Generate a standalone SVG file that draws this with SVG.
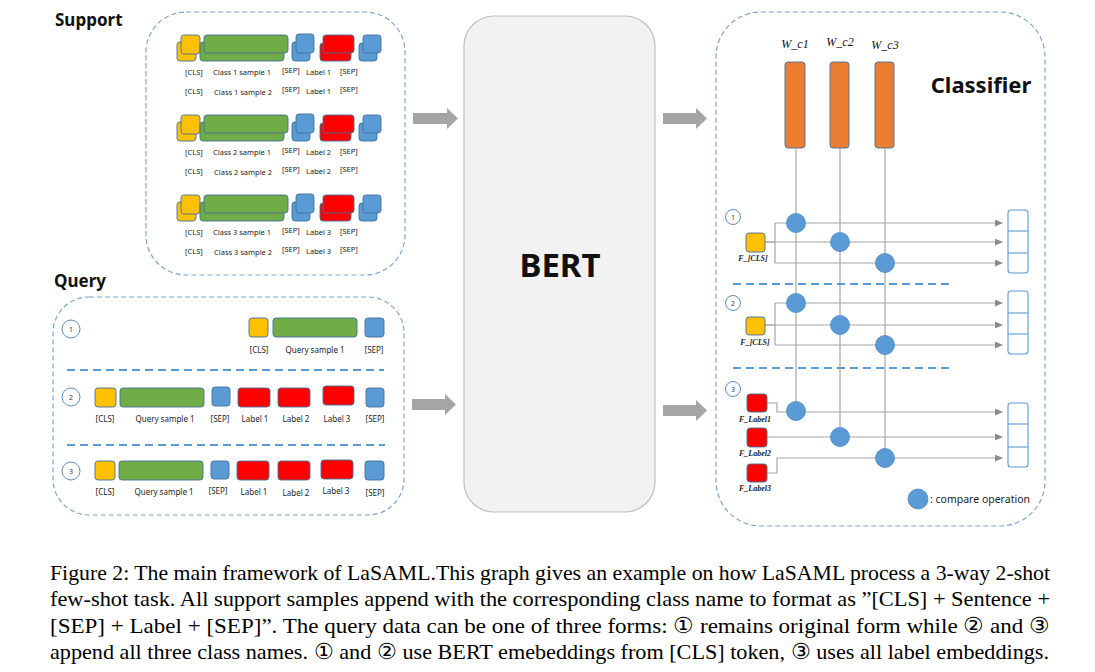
<svg xmlns="http://www.w3.org/2000/svg" width="1095" height="672" viewBox="0 0 1095 672">
<style>
.frame{fill:none;stroke:#7FA6CF;stroke-width:1.2;stroke-dasharray:5 3}
.sep{fill:none;stroke:#5B9BD5;stroke-width:2;stroke-dasharray:8 5}
.y{fill:#FFC000;stroke:#41719C;stroke-width:0.9}
.g{fill:#70AD47;stroke:#41719C;stroke-width:0.9}
.b{fill:#5B9BD5;stroke:#41719C;stroke-width:0.9}
.r{fill:#FF0000;stroke:#41719C;stroke-width:0.9}
.o{fill:#ED7D31;stroke:#41719C;stroke-width:0.9}
.t{font-family:"Noto Sans","Open Sans",sans-serif;font-size:7.5px;fill:#222}
.tq{font-family:"Noto Sans","Open Sans",sans-serif;font-size:8px;fill:#222;text-anchor:middle}
.h{font-family:"Noto Sans","Open Sans",sans-serif;font-weight:bold;fill:#111}
.num{fill:#fff;stroke:#5B8EC2;stroke-width:1}
.numt{font-family:"Noto Sans",sans-serif;font-size:7px;fill:#333;text-anchor:middle}
.wl{font-family:"Liberation Serif",serif;font-style:italic;font-size:12px;fill:#111;text-anchor:middle}
.fl{font-family:"Liberation Serif",serif;font-style:italic;font-weight:bold;font-size:8px;fill:#222;text-anchor:middle}
.ln{fill:none;stroke:#A6A6A6;stroke-width:1.2}
.cmp{fill:#5B9BD5;stroke:#4A86C0;stroke-width:0.8}
.out{fill:#fff;stroke:#5B9BD5;stroke-width:1.1}
.cap{font-family:"Liberation Serif","DejaVu Serif",serif;font-size:22px;fill:#000}
.arr{fill:#A5A5A5}
</style>
<defs>
<marker id="ah" markerWidth="8" markerHeight="7" refX="7" refY="3.5" orient="auto" markerUnits="userSpaceOnUse">
<path d="M0,0 L8,3.5 L0,7 z" fill="#8C8C8C"/>
</marker>
</defs>

<!-- Support -->
<g id="support">
<text class="h" x="55" y="26" font-size="17">Support</text>
<rect class="frame" x="146" y="12" width="259" height="263" rx="40"/>
<g id="support-class1">
<rect class="y" x="177" y="42" width="19" height="19" rx="3"/><rect class="y" x="181" y="35" width="19" height="19" rx="3"/>
<rect class="g" x="200" y="42" width="84" height="19" rx="3"/><rect class="g" x="204" y="35" width="84" height="18" rx="3"/>
<rect class="b" x="292" y="42" width="18" height="19" rx="3"/><rect class="b" x="296" y="34" width="18" height="19" rx="3"/>
<rect class="r" x="320" y="43" width="31" height="18" rx="3"/><rect class="r" x="323" y="35" width="31" height="18" rx="3"/>
<rect class="b" x="359" y="43" width="18" height="18" rx="3"/><rect class="b" x="363" y="35" width="18" height="18" rx="3"/>
<text class="t" x="185" y="75">[CLS]</text><text class="t" x="213" y="75">Class 1 sample 1</text><text class="t" x="282" y="73">[SEP]</text><text class="t" x="306" y="75">Label 1</text><text class="t" x="340" y="74">[SEP]</text>
<text class="t" x="185" y="94">[CLS]</text><text class="t" x="214" y="95">Class 1 sample 2</text><text class="t" x="282" y="92">[SEP]</text><text class="t" x="306" y="94">Label 1</text><text class="t" x="340" y="92">[SEP]</text>
</g>
<g id="support-class2" transform="translate(0,80)">
<rect class="y" x="177" y="42" width="19" height="19" rx="3"/><rect class="y" x="181" y="35" width="19" height="19" rx="3"/>
<rect class="g" x="200" y="42" width="84" height="19" rx="3"/><rect class="g" x="204" y="35" width="84" height="18" rx="3"/>
<rect class="b" x="292" y="42" width="18" height="19" rx="3"/><rect class="b" x="296" y="34" width="18" height="19" rx="3"/>
<rect class="r" x="320" y="43" width="31" height="18" rx="3"/><rect class="r" x="323" y="35" width="31" height="18" rx="3"/>
<rect class="b" x="359" y="43" width="18" height="18" rx="3"/><rect class="b" x="363" y="35" width="18" height="18" rx="3"/>
<text class="t" x="185" y="75">[CLS]</text><text class="t" x="213" y="75">Class 2 sample 1</text><text class="t" x="282" y="73">[SEP]</text><text class="t" x="306" y="75">Label 2</text><text class="t" x="340" y="74">[SEP]</text>
<text class="t" x="185" y="94">[CLS]</text><text class="t" x="214" y="95">Class 2 sample 2</text><text class="t" x="282" y="92">[SEP]</text><text class="t" x="306" y="94">Label 2</text><text class="t" x="340" y="92">[SEP]</text>
</g>
<g id="support-class3" transform="translate(0,160)">
<rect class="y" x="177" y="42" width="19" height="19" rx="3"/><rect class="y" x="181" y="35" width="19" height="19" rx="3"/>
<rect class="g" x="200" y="42" width="84" height="19" rx="3"/><rect class="g" x="204" y="35" width="84" height="18" rx="3"/>
<rect class="b" x="292" y="42" width="18" height="19" rx="3"/><rect class="b" x="296" y="34" width="18" height="19" rx="3"/>
<rect class="r" x="320" y="43" width="31" height="18" rx="3"/><rect class="r" x="323" y="35" width="31" height="18" rx="3"/>
<rect class="b" x="359" y="43" width="18" height="18" rx="3"/><rect class="b" x="363" y="35" width="18" height="18" rx="3"/>
<text class="t" x="185" y="75">[CLS]</text><text class="t" x="213" y="75">Class 3 sample 1</text><text class="t" x="282" y="73">[SEP]</text><text class="t" x="306" y="75">Label 3</text><text class="t" x="340" y="74">[SEP]</text>
<text class="t" x="185" y="94">[CLS]</text><text class="t" x="214" y="95">Class 3 sample 2</text><text class="t" x="282" y="92">[SEP]</text><text class="t" x="306" y="94">Label 3</text><text class="t" x="340" y="92">[SEP]</text>
</g>
</g>

<!-- Query -->
<g id="query">
<text class="h" x="54" y="287" font-size="17">Query</text>
<rect class="frame" x="53" y="297" width="351" height="218" rx="36"/>
<g id="query-form1">
<circle class="num" cx="71" cy="329" r="9"/><text class="numt" x="71" y="331.5">1</text>
<rect class="y" x="249" y="318" width="19" height="19" rx="3"/>
<rect class="g" x="273" y="318" width="84" height="19" rx="3"/>
<rect class="b" x="365" y="318" width="19" height="19" rx="3"/>
<text class="tq" x="259" y="353">[CLS]</text><text class="tq" x="315" y="353">Query sample 1</text><text class="tq" x="374" y="353">[SEP]</text>
</g>
<line class="sep" x1="67" y1="370" x2="384" y2="370"/>
<g id="query-form2">
<circle class="num" cx="71" cy="397" r="9"/><text class="numt" x="71" y="399.5">2</text>
<rect class="y" x="95" y="388" width="21" height="19" rx="3"/>
<rect class="g" x="120" y="388" width="84" height="19" rx="3"/>
<rect class="b" x="212" y="387" width="18" height="19" rx="3"/>
<rect class="r" x="238" y="388" width="32" height="19" rx="3"/>
<rect class="r" x="278" y="388" width="32" height="19" rx="3"/>
<rect class="r" x="323" y="386" width="31" height="19" rx="3"/>
<rect class="b" x="366" y="388" width="18" height="19" rx="3"/>
<text class="tq" x="105" y="422">[CLS]</text><text class="tq" x="165" y="422">Query sample 1</text><text class="tq" x="220" y="422">[SEP]</text><text class="tq" x="255" y="422">Label 1</text><text class="tq" x="296" y="422">Label 2</text><text class="tq" x="337" y="422">Label 3</text><text class="tq" x="375" y="422">[SEP]</text>
</g>
<line class="sep" x1="67" y1="445" x2="385" y2="445"/>
<g id="query-form3">
<circle class="num" cx="71" cy="471" r="9"/><text class="numt" x="71" y="473.5">3</text>
<rect class="y" x="95" y="461" width="20" height="19" rx="3"/>
<rect class="g" x="119" y="461" width="84" height="19" rx="3"/>
<rect class="b" x="211" y="461" width="18" height="18" rx="3"/>
<rect class="r" x="237" y="461" width="32" height="19" rx="3"/>
<rect class="r" x="278" y="461" width="32" height="19" rx="3"/>
<rect class="r" x="321" y="460" width="32" height="19" rx="3"/>
<rect class="b" x="365" y="461" width="19" height="19" rx="3"/>
<text class="tq" x="105" y="495">[CLS]</text><text class="tq" x="164" y="495">Query sample 1</text><text class="tq" x="218" y="494">[SEP]</text><text class="tq" x="254" y="495">Label 1</text><text class="tq" x="296" y="496">Label 2</text><text class="tq" x="336" y="494">Label 3</text><text class="tq" x="375" y="496">[SEP]</text>
</g>
</g>

<!-- BERT -->
<g id="bert">
<rect x="464" y="16" width="191" height="496" rx="30" fill="#F2F2F2" stroke="#BFBFBF" stroke-width="1.2"/>
<text class="h" x="560" y="277" font-size="33" text-anchor="middle">BERT</text>
</g>

<!-- Block arrows -->
<g id="flow-arrows">
<path class="arr" d="M413,113 H447 V108 L458,118.5 L447,129 V124 H413 z"/>
<path class="arr" d="M663,113 H696 V108 L707,118.5 L696,129 V124 H663 z"/>
<path class="arr" d="M412,399 H445 V394 L456,404.5 L445,415 V410 H412 z"/>
<path class="arr" d="M663,405 H696 V400 L707,410.5 L696,421 V416 H663 z"/>
</g>

<!-- Classifier -->
<g id="classifier">
<rect class="frame" x="716" y="12" width="329" height="514" rx="45"/>
<text class="h" x="981" y="93" font-size="22" text-anchor="middle">Classifier</text>
<g id="weights">
<text class="wl" x="795" y="48">W_c1</text><text class="wl" x="840" y="46">W_c2</text><text class="wl" x="885" y="49">W_c3</text>
<rect class="o" x="785" y="62" width="20" height="86" rx="3"/>
<rect class="o" x="830" y="62" width="19" height="86" rx="3"/>
<rect class="o" x="875" y="62" width="19" height="86" rx="3"/>
</g>
</g>

<g id="connectors">
<line class="ln" x1="796" y1="148" x2="796" y2="412"/>
<line class="ln" x1="840" y1="148" x2="840" y2="437"/>
<line class="ln" x1="885" y1="148" x2="885" y2="458"/>
<!-- form 1 -->
<path class="ln" d="M765,242 H775 M775,223 V263"/>
<line class="ln" x1="775" y1="223" x2="1002" y2="223" marker-end="url(#ah)"/>
<line class="ln" x1="765" y1="242" x2="1002" y2="242" marker-end="url(#ah)"/>
<line class="ln" x1="775" y1="263" x2="1002" y2="263" marker-end="url(#ah)"/>
<!-- form 2 -->
<path class="ln" d="M765,325 H775 M775,303 V345"/>
<line class="ln" x1="775" y1="303" x2="1002" y2="303" marker-end="url(#ah)"/>
<line class="ln" x1="765" y1="325" x2="1002" y2="325" marker-end="url(#ah)"/>
<line class="ln" x1="775" y1="345" x2="1002" y2="345" marker-end="url(#ah)"/>
<!-- form 3 -->
<path class="ln" d="M767,403 H777 V412 H1002" marker-end="url(#ah)"/>
<line class="ln" x1="767" y1="437" x2="1002" y2="437" marker-end="url(#ah)"/>
<path class="ln" d="M767,473 H777 V458 H1002" marker-end="url(#ah)"/>
</g>

<g id="classifier-form1">
<circle class="num" cx="733" cy="217" r="7.5"/><text class="numt" x="733" y="219.5">1</text>
<rect class="y" x="746" y="233" width="19" height="19" rx="3"/>
<text class="fl" x="753" y="261">F_[CLS]</text>
<circle class="cmp" cx="796" cy="223" r="9.5"/>
<circle class="cmp" cx="840" cy="242" r="9.5"/>
<circle class="cmp" cx="885" cy="263" r="9.5"/>
<rect class="out" x="1008" y="210" width="20" height="63" rx="3"/>
<line class="out" x1="1008" y1="231" x2="1028" y2="231"/><line class="out" x1="1008" y1="253" x2="1028" y2="253"/>
</g>
<line class="sep" x1="733" y1="284" x2="952" y2="284"/>
<g id="classifier-form2">
<circle class="num" cx="733" cy="303" r="7.5"/><text class="numt" x="733" y="305.5">2</text>
<rect class="y" x="746" y="317" width="19" height="18" rx="3"/>
<text class="fl" x="755" y="345">F_[CLS]</text>
<circle class="cmp" cx="796" cy="303" r="9.5"/>
<circle class="cmp" cx="840" cy="325" r="9.5"/>
<circle class="cmp" cx="885" cy="345" r="9.5"/>
<rect class="out" x="1008" y="291" width="20" height="63" rx="3"/>
<line class="out" x1="1008" y1="313" x2="1028" y2="313"/><line class="out" x1="1008" y1="334" x2="1028" y2="334"/>
</g>
<line class="sep" x1="733" y1="368" x2="952" y2="368"/>
<g id="classifier-form3">
<circle class="num" cx="733" cy="389" r="7.5"/><text class="numt" x="733" y="391.5">3</text>
<rect class="r" x="747" y="394" width="20" height="18" rx="3"/>
<text class="fl" x="755" y="422">F_Label1</text>
<rect class="r" x="747" y="428" width="20" height="19" rx="3"/>
<text class="fl" x="755" y="456">F_Label2</text>
<rect class="r" x="747" y="464" width="20" height="18" rx="3"/>
<text class="fl" x="755" y="491">F_Label3</text>
<circle class="cmp" cx="796" cy="411" r="9.5"/>
<circle class="cmp" cx="840" cy="437" r="9.5"/>
<circle class="cmp" cx="885" cy="458" r="9.5"/>
<rect class="out" x="1008" y="403" width="20" height="64" rx="3"/>
<line class="out" x1="1008" y1="424" x2="1028" y2="424"/><line class="out" x1="1008" y1="447" x2="1028" y2="447"/>
</g>
<g id="legend">
<circle class="cmp" cx="918" cy="499" r="10"/>
<text x="930" y="503" font-family="Noto Sans, Open Sans, sans-serif" font-size="10.5" fill="#222">: compare operation</text>
</g>

<!-- Caption -->
<g id="caption">
<text class="cap" x="50" y="580" textLength="1000" lengthAdjust="spacingAndGlyphs">Figure 2: The main framework of LaSAML.This graph gives an example on how LaSAML process a 3-way 2-shot</text>
<text class="cap" x="50" y="606" textLength="1000" lengthAdjust="spacingAndGlyphs">few-shot task.  All support samples append with the corresponding class name to format as ”[CLS] + Sentence +</text>
<text class="cap" x="50" y="633" textLength="1000" lengthAdjust="spacingAndGlyphs">[SEP] + Label + [SEP]”.  The query data can be one of three forms: ① remains original form while ② and ③</text>
<text class="cap" x="50" y="659" textLength="999" lengthAdjust="spacingAndGlyphs">append all three class names. ① and ② use BERT emebeddings from [CLS] token, ③ uses all label embeddings.</text>
</g>
</svg>
